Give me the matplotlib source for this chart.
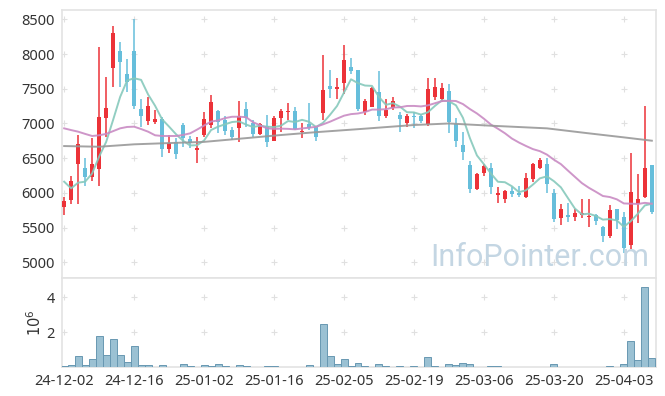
import matplotlib
matplotlib.use("Agg")
import matplotlib.pyplot as plt
import numpy as np
import pandas as pd

# daily OHLC (one entry per trading day)
opens = [5802, 5898, 6416, 6359, 6234, 6349, 7084, 7804, 8039, 7708,
         8039, 7204, 7040, 7026, 7060, 6637, 6738, 6978, 6772, 6613,
         6839, 6983, 7180, 7050, 6906, 6940, 7208, 7012, 6848, 6964,
         6752, 7084, 7160, 7180, 6877, 6992, 6954, 7156, 7540, 7501,
         7588, 7808, 7770, 7165, 7242, 7453, 7112, 7228, 7117, 7012,
         7108, 7108, 6988, 7386, 7357, 7468, 6992, 6690, 6402, 6056,
         6282, 6359, 5965, 5908, 6028, 5994, 5936, 6200, 6354, 6416,
         6004, 5644, 5682, 5658, 5687, 5648, 5682, 5514, 5384, 5768,
         5658, 5250, 5840, 5936, 6402]
highs = [5936, 6244, 6829, 6498, 6796, 8096, 7664, 8404, 8168, 7924,
         8500, 7348, 7386, 7199, 7098, 6834, 6786, 7002, 6820, 6810,
         7160, 7405, 7200, 7108, 6954, 7324, 7304, 7050, 7000, 7117,
         7108, 7204, 7290, 7232, 7002, 7290, 6968, 7986, 7770, 7660,
         8130, 7938, 7770, 7348, 7530, 7756, 7348, 7376, 7170, 7136,
         7165, 7136, 7650, 7650, 7583, 7568, 7074, 6882, 6464, 6282,
         6412, 6436, 6090, 6042, 6090, 6104, 6282, 6426, 6498, 6498,
         6056, 5836, 5850, 5768, 5908, 5908, 5692, 5524, 5831, 5768,
         5730, 6570, 6272, 7252, 6402]
lows = [5682, 5836, 5836, 6104, 6172, 6100, 6800, 7520, 7520, 7458,
        7204, 6944, 6978, 6988, 6522, 6570, 6488, 6666, 6642, 6426,
        6810, 6930, 6858, 6834, 6762, 6728, 6954, 6810, 6840, 6656,
        6742, 6882, 7050, 6906, 6796, 6906, 6752, 7050, 7362, 7348,
        7424, 7708, 7184, 7122, 7232, 7040, 7074, 7194, 6872, 6954,
        6930, 7002, 6964, 7338, 7314, 6868, 6666, 6474, 6004, 6042,
        6244, 5984, 5850, 5850, 5946, 5946, 5922, 6162, 6340, 6004,
        5576, 5538, 5576, 5600, 5634, 5514, 5538, 5298, 5346, 5476,
        5130, 5188, 5562, 5922, 5696]
closes = [5884, 6167, 6704, 6234, 6416, 7093, 7223, 8298, 7880, 7602,
          7252, 7108, 7247, 7064, 6628, 6724, 6556, 6786, 6724, 6647,
          7064, 7309, 7026, 6896, 6810, 7108, 7084, 6848, 6992, 6738,
          7079, 7184, 7184, 6920, 6896, 6940, 6810, 7482, 7496, 7530,
          7914, 7760, 7204, 7324, 7506, 7112, 7199, 7324, 7069, 7108,
          7098, 7040, 7496, 7525, 7511, 7026, 6752, 6594, 6056, 6272,
          6392, 6080, 6004, 6023, 5980, 5970, 6210, 6416, 6474, 6124,
          5624, 5764, 5648, 5716, 5706, 5672, 5600, 5384, 5754, 5610,
          5212, 6013, 5912, 6354, 5730]
# volume in millions of shares
volumes = [0.08, 0.14, 0.65, 0.14, 0.48, 1.79, 0.71, 1.62, 0.71, 0.33,
           1.20, 0.14, 0.14, 0.04, 0.14, 0.04, 0.04, 0.19, 0.08, 0.04,
           0.14, 0.08, 0.19, 0.08, 0.04, 0.14, 0.08, 0.04, 0.01, 0.08,
           0.08, 0.04, 0.04, 0.04, 0.04, 0.14, 0.04, 2.48, 0.65, 0.19,
           0.48, 0.08, 0.25, 0.08, 0.02, 0.19, 0.08, 0.02, 0.08, 0.02,
           0.08, 0.02, 0.59, 0.08, 0.02, 0.19, 0.14, 0.25, 0.19, 0.02,
           0.02, 0.08, 0.08, 0.02, 0.02, 0.00, 0.02, 0.02, 0.02, 0.02,
           0.19, 0.02, 0.02, 0.00, 0.02, 0.02, 0.02, 0.02, 0.08, 0.02,
           0.19, 1.51, 0.42, 4.61, 0.53]

# closes before the window (needed for the 5-day average)
prev_closes = [6647, 6294, 6164, 5821]
# 20-day average for the first 19 days (earlier closes not shown)
ma20_head = [6930, 6905, 6882, 6850, 6820, 6830, 6850, 6890, 6930, 6950,
             6954, 6920, 6882, 6830, 6820, 6820, 6820, 6835, 6858]
# long moving average, read at a few days
ma_long_idx = [0, 5, 10, 15, 20, 25, 31, 36, 42, 50, 55, 61, 69, 75, 80, 84]
ma_long_val = [6675, 6665, 6700, 6718, 6735, 6780, 6834, 6875, 6918, 6978,
               7000, 6968, 6930, 6858, 6800, 6752]

tick_pos = [0, 10, 20, 30, 40, 50, 60, 70, 80]
tick_labels = ["24-12-02", "24-12-16", "25-01-02", "25-01-16", "25-02-05",
               "25-02-19", "25-03-06", "25-03-20", "25-04-03"]

c = pd.Series(prev_closes + closes)
ma5 = c.rolling(5).mean().values[len(prev_closes):]
ma20 = pd.Series(closes).rolling(20).mean().values
ma20[:19] = ma20_head

plt.rcParams['font.family'] = ['Noto Sans', 'DejaVu Sans']
up_col = '#ec3238'
dn_col = '#66bedb'
frame_col = '#e3e3e3'
text_col = '#333333'

fig = plt.figure(figsize=(6.65, 3.96), dpi=100)
ax = fig.add_axes([0.0928, 0.298, 0.8932, 0.676])
axv = fig.add_axes([0.0928, 0.0725, 0.8932, 0.2255], sharex=ax)

x = np.arange(len(closes))
o = np.array(opens); h = np.array(highs); l = np.array(lows); cl = np.array(closes)
up = cl >= o
cols = np.where(up, up_col, dn_col)

ax.vlines(x, l, h, colors=cols, lw=1.1, zorder=3)
ax.bar(x, np.abs(cl - o), bottom=np.minimum(o, cl), width=0.62, color=cols,
       zorder=3)
ax.plot(x, ma5, color='#86c9bc', lw=1.4, alpha=0.9, zorder=4)
ax.plot(x, ma20, color='#c98bc3', lw=1.4, alpha=0.9, zorder=4)
ax.plot(ma_long_idx, ma_long_val, color='#999999', lw=1.4, alpha=0.9, zorder=4)

axv.bar(x, volumes, width=1.0, color='#9bc1d3', edgecolor='#6898b2', lw=0.7,
        zorder=3)

ax.set_xlim(-0.35, 84.55)
ax.set_ylim(4775, 8630)
axv.set_ylim(0, 5.1)

yt = [5000, 5500, 6000, 6500, 7000, 7500, 8000, 8500]
ax.set_yticks(yt)
axv.set_yticks([2, 4])
axv.set_xticks(tick_pos)
axv.set_xticklabels(tick_labels)
plt.setp(ax.get_xticklabels(), visible=False)

# faint "+" grid marks
gx, gy = np.meshgrid(tick_pos, yt)
ax.plot(gx.ravel(), gy.ravel(), '+', color='#e0e0e0', ms=4, mew=0.8, zorder=1)
gx, gy = np.meshgrid(tick_pos, [2, 4])
axv.plot(gx.ravel(), gy.ravel(), '+', color='#e0e0e0', ms=4, mew=0.8, zorder=1)

for a in (ax, axv):
    a.tick_params(length=0, labelsize=10.5, colors=text_col, pad=5)
    for s in a.spines.values():
        s.set_color(frame_col)
        s.set_linewidth(1.2)
axv.set_ylabel('$10^6$', fontsize=10.5, color=text_col, labelpad=1)

fig.text(430 / 665, 1 - 266 / 396, 'InfoPointer.com', fontsize=22,
         family='Roboto', color='#c4d6e3', ha='left', va='baseline', zorder=0)

fig.savefig('out.png', dpi=100)
